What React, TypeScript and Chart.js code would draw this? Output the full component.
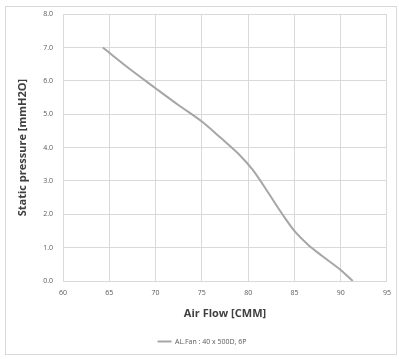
import React, { useEffect, useRef } from "react";
import { Chart, registerables } from "chart.js";

Chart.register(...registerables);

const airFlow: number[] = [64.3, 67, 70, 72.5, 75, 77, 79, 80.5, 82, 83.7, 85, 86.5, 88, 90, 91.3];
const staticPressure: number[] = [7.0, 6.4, 5.78, 5.27, 4.78, 4.3, 3.8, 3.33, 2.72, 2.0, 1.5, 1.08, 0.75, 0.33, 0.0];
const seriesLabel = "AL.Fan : 40 x 500D, 6P";
const xTitle = "Air Flow [CMM]";
const yTitle = "Static pressure [mmH2O]";

const FONT = "'Open Sans', 'Noto Sans', sans-serif";
const GRID = "#d9d9d9";

const framePlugin = {
  id: "frame",
  beforeDraw(chart: any) {
    const { ctx, width, height } = chart;
    ctx.save();
    ctx.fillStyle = "#ffffff";
    ctx.fillRect(0, 0, width, height);
    ctx.strokeStyle = "#d9d9d9";
    ctx.lineWidth = 1;
    ctx.strokeRect(5.5, 6.5, 391, 348);
    ctx.restore();
  },
};

export default function App() {
  const ref = useRef<HTMLCanvasElement | null>(null);
  useEffect(() => {
    if (!ref.current) return;
    const chart = new Chart(ref.current, {
      type: "line",
      data: {
        datasets: [
          {
            label: seriesLabel,
            data: airFlow.map((x, i) => ({ x, y: staticPressure[i] })),
            borderColor: "#a6a6a6",
            backgroundColor: "#a6a6a6",
            borderWidth: 2,
            pointRadius: 0,
            cubicInterpolationMode: "monotone",
            fill: false,
          },
        ],
      },
      options: {
        animation: false,
        responsive: false,
        maintainAspectRatio: false,
        layout: { padding: { left: 16, right: 11, top: 14, bottom: 4 } },
        plugins: {
          legend: {
            position: "bottom",
            labels: {
              usePointStyle: true,
              pointStyle: "line",
              pointStyleWidth: 14,
              boxHeight: 6,
              color: "#595959",
              font: { family: FONT, size: 7 },
              padding: 8,
            },
          },
          tooltip: { enabled: false },
        },
        scales: {
          x: {
            type: "linear",
            min: 60,
            max: 95,
            ticks: {
              stepSize: 5,
              color: "#595959",
              font: { family: FONT, size: 7 },
              padding: 8,
            },
            grid: { color: GRID, drawTicks: false },
            border: { color: GRID },
            title: {
              display: true,
              text: xTitle,
              color: "#404040",
              font: { family: FONT, size: 11, weight: "bold" },
              padding: { top: 2, bottom: 10 },
            },
            afterFit(scale: any) {
              scale.height = 49;
            },
          },
          y: {
            type: "linear",
            min: 0,
            max: 8,
            ticks: {
              stepSize: 1,
              color: "#595959",
              font: { family: FONT, size: 7 },
              padding: 10,
              callback: (v: any) => Number(v).toFixed(1),
            },
            grid: { color: GRID, drawTicks: false },
            border: { color: GRID },
            title: {
              display: true,
              text: yTitle,
              color: "#404040",
              font: { family: FONT, size: 11, weight: "bold" },
              padding: { top: 0, bottom: 0 },
            },
            afterFit(scale: any) {
              scale.width = 47;
            },
          },
        },
      },
      plugins: [framePlugin],
    } as any);
    return () => chart.destroy();
  }, []);
  return (
    <div style={{ position: "absolute", left: 0, top: 0, width: 399, height: 359 }}>
      <canvas ref={ref} width={399} height={359} style={{ width: 399, height: 359 }} />
    </div>
  );
}
